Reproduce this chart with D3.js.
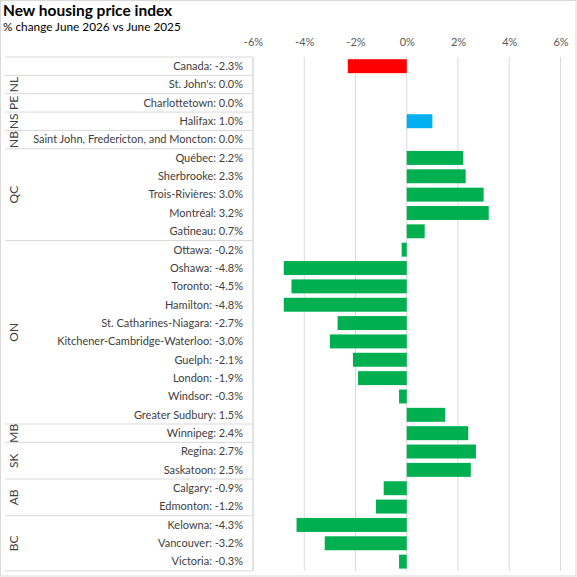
<!DOCTYPE html>
<html><head><meta charset="utf-8">
<script src="https://cdn.jsdelivr.net/npm/d3@7"></script>
<style>body{margin:0;background:#fff}svg{display:block}</style>
</head><body>
<script>
const cities = ["Canada","St. John's","Charlottetown","Halifax","Saint John, Fredericton, and Moncton","Québec","Sherbrooke","Trois-Rivières","Montréal","Gatineau","Ottawa","Oshawa","Toronto","Hamilton","St. Catharines-Niagara","Kitchener-Cambridge-Waterloo","Guelph","London","Windsor","Greater Sudbury","Winnipeg","Regina","Saskatoon","Calgary","Edmonton","Kelowna","Vancouver","Victoria"];
const values = [-2.3,0.0,0.0,1.0,0.0,2.2,2.3,3.0,3.2,0.7,-0.2,-4.8,-4.5,-4.8,-2.7,-3.0,-2.1,-1.9,-0.3,1.5,2.4,2.7,2.5,-0.9,-1.2,-4.3,-3.2,-0.3];
const provinces = ["","NL","PE","NS","NB","QC","ON","MB","SK","AB","BC"];
const provinceCounts = [1,1,1,1,1,5,10,1,2,2,3];
const xTicks = [-6,-4,-2,0,2,4,6];
const title = "New housing price index";
const subtitle = "% change June 2026 vs June 2025";

(function(){
const W=577,H=577;
const svg=d3.select("body").append("svg").attr("width",W).attr("height",H);
const font="Lato, 'Open Sans', sans-serif";
svg.append("rect").attr("x",0.5).attr("y",0.5).attr("width",W-1.5).attr("height",H-1.5).attr("fill","#fff").attr("stroke","#d9d9d9");

svg.append("text").attr("x",3).attr("y",16).text(title).attr("font-family",font).attr("font-weight","bold").attr("font-size",15.5).attr("fill","#000");
svg.append("text").attr("x",3).attr("y",31).text(subtitle).attr("font-family",font).attr("font-size",11.8).attr("fill","#000");

const plotTop=57, plotBottom=570.8, tableLeft=5;
const x=d3.scaleLinear().domain([-6,6]).range([253,560.5]);
const y=d3.scaleBand().domain(d3.range(cities.length)).range([plotTop,plotBottom]).paddingInner(0.24).paddingOuter(0.12);
const rowH=(plotBottom-plotTop)/cities.length;

svg.append("g").selectAll("line").data(xTicks).join("line")
  .attr("x1",d=>x(d)).attr("x2",d=>x(d)).attr("y1",plotTop).attr("y2",plotBottom)
  .attr("stroke","#d9d9d9").attr("stroke-width",1);

const ax=svg.append("g").attr("transform",`translate(0,46)`).call(d3.axisTop(x).tickValues(xTicks).tickSize(0).tickPadding(0).tickFormat(d=>d+"%"));
ax.select(".domain").remove();
ax.selectAll("text").attr("font-family",font).attr("font-size",11).attr("fill","#595959");

const colorOf=(c)=>c==="Canada"?"#ff0000":(c==="Halifax"?"#00b0f0":"#00b050");
svg.append("g").selectAll("rect").data(values).join("rect")
  .attr("x",d=>x(Math.min(0,d))).attr("width",d=>Math.abs(x(d)-x(0)))
  .attr("y",(d,i)=>y(i)).attr("height",y.bandwidth())
  .attr("fill",(d,i)=>colorOf(cities[i]));

svg.append("g").selectAll("text").data(cities).join("text")
  .attr("x",243).attr("y",(d,i)=>plotTop+rowH*(i+0.5)).attr("dy","0.35em")
  .attr("text-anchor","end").attr("font-family",font).attr("font-size",11).attr("fill","#404040")
  .text((d,i)=>`${d}: ${values[i].toFixed(1)}%`);

let start=0;
const groups=provinces.map((p,k)=>{const g={p,start,n:provinceCounts[k]};start+=provinceCounts[k];return g;});
const lines=svg.append("g");
groups.forEach(g=>{
  const y0=plotTop+rowH*g.start;
  lines.append("line").attr("x1",tableLeft).attr("x2",253).attr("y1",y0).attr("y2",y0).attr("stroke","#d9d9d9");
  if(g.p){
    const cy=plotTop+rowH*(g.start+g.n/2);
    svg.append("text").attr("transform",`translate(14,${cy}) rotate(-90)`).attr("dy","0.35em")
      .attr("text-anchor","middle").attr("font-family",font).attr("font-size",12).attr("fill","#404040").text(g.p);
  }
});
lines.append("line").attr("x1",tableLeft).attr("x2",253).attr("y1",plotBottom).attr("y2",plotBottom).attr("stroke","#d9d9d9");
lines.append("line").attr("x1",253).attr("x2",253).attr("y1",plotTop).attr("y2",plotBottom).attr("stroke","#d9d9d9");
})();
</script>
</body></html>
